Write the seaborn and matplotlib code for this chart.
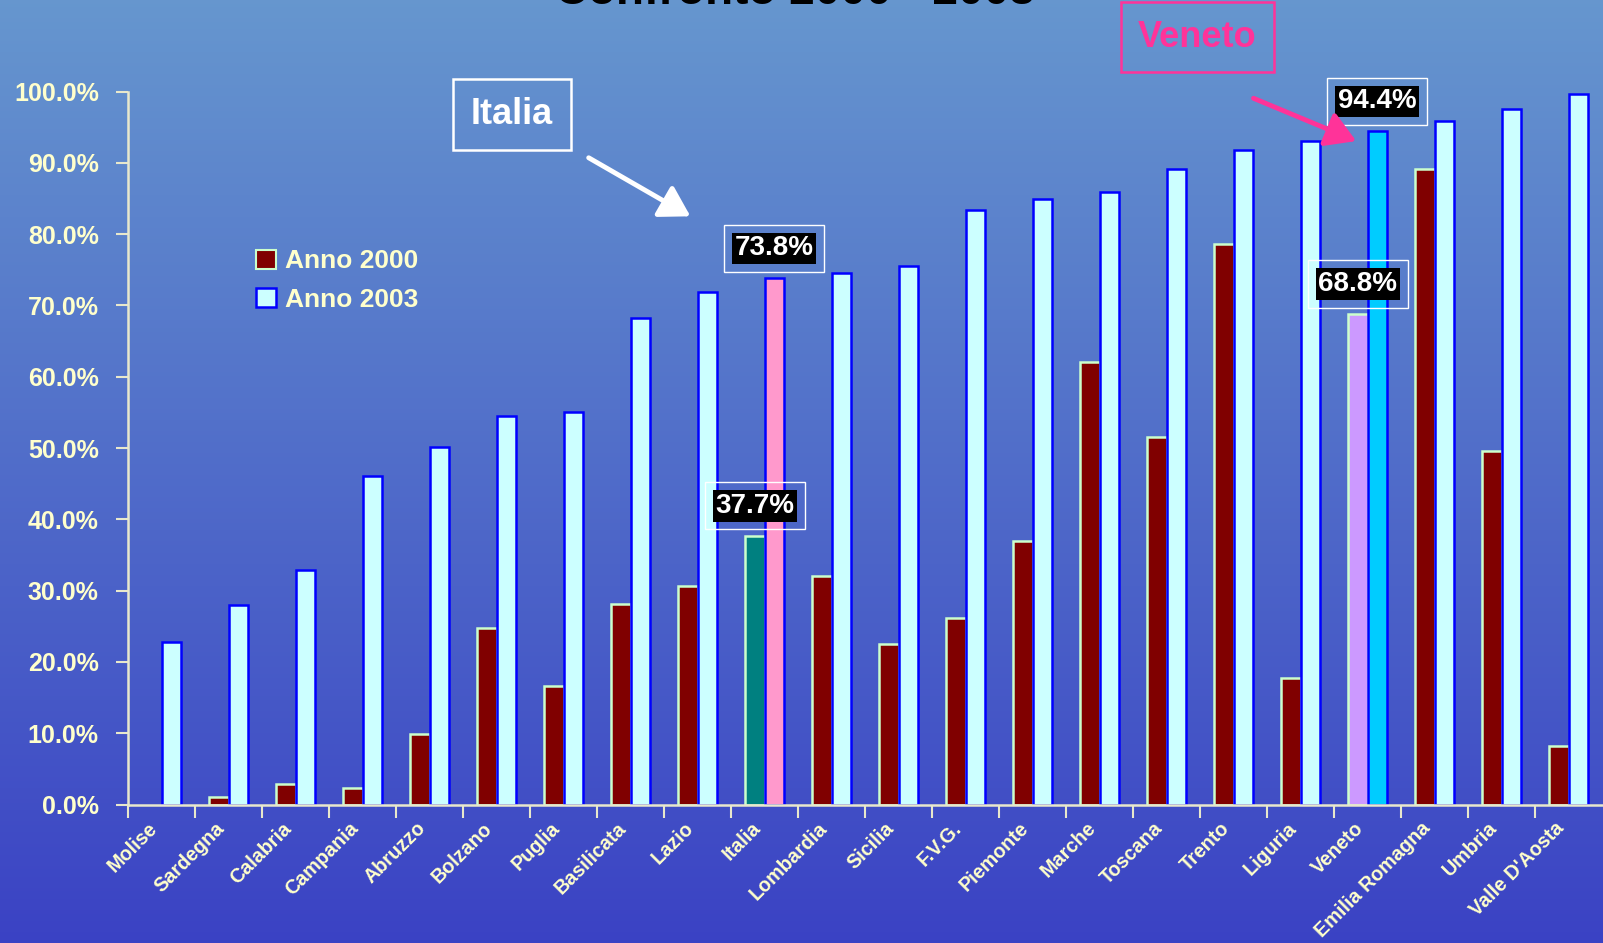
"""
Confronto 2000 - 2003: percentuale per regione, con Italia e Veneto evidenziati.
"""

import numpy as np
import pandas as pd
import matplotlib
matplotlib.use("Agg")
import matplotlib.pyplot as plt
from matplotlib.patches import Patch
from matplotlib.ticker import FixedLocator, PercentFormatter
from matplotlib.transforms import ScaledTranslation
import seaborn as sns


# ---------------------------------------------------------------------------
# Data
# ---------------------------------------------------------------------------

regioni = [
    "Molise", "Sardegna", "Calabria", "Campania", "Abruzzo", "Bolzano",
    "Puglia", "Basilicata", "Lazio", "Italia", "Lombardia", "Sicilia",
    "F.V.G.", "Piemonte", "Marche", "Toscana", "Trento", "Liguria",
    "Veneto", "Emilia Romagna", "Umbria", "Valle D'Aosta",
]

anno_2000 = [
    0.0, 1.1, 2.9, 2.3, 9.9, 24.8, 16.6, 28.1, 30.6, 37.7, 32.1,
    22.5, 26.1, 37.0, 62.0, 51.6, 78.6, 17.8, 68.8, 89.2, 49.6, 8.2,
]

anno_2003 = [
    22.8, 28.0, 32.9, 46.1, 50.1, 54.5, 55.1, 68.3, 71.9, 73.8, 74.5,
    75.5, 83.4, 84.9, 85.9, 89.2, 91.8, 93.0, 94.4, 95.8, 97.6, 99.6,
]

serie = ["Anno 2000", "Anno 2003"]
evidenziate = ["Italia", "Veneto"]

# colours
TXT = "#ffffcc"
COL_2000, EDGE_2000 = "#800000", "#ccffcc"
COL_2003, EDGE_2003 = "#ccffff", "#0000ff"
SPECIAL = {
    "Italia": ("#008080", "#ff99cc"),
    "Veneto": ("#cc99ff", "#00ccff"),
}

sns.set_style("white")
plt.rcParams["font.family"] = ["Liberation Sans", "DejaVu Sans"]

df = pd.DataFrame({
    "Regione": regioni * 2,
    "Anno": [serie[0]] * len(regioni) + [serie[1]] * len(regioni),
    "Valore": [v / 100 for v in anno_2000 + anno_2003],
})

# ---------------------------------------------------------------------------
# Figure + gradient background
# ---------------------------------------------------------------------------

W, H = 1603, 943
fig = plt.figure(figsize=(W / 100, H / 100), dpi=100)

bg = fig.add_axes([0, 0, 1, 1], zorder=-10)
top = np.array([0.40, 0.59, 0.81])
bot = np.array([0.23, 0.26, 0.77])
t = np.linspace(0, 1, 256)[:, None]
grad = top[None, :] * (1 - t) + bot[None, :] * t
bg.imshow(grad[:, None, :], aspect="auto", extent=[0, 1, 0, 1])
bg.axis("off")

ax = fig.add_axes([128 / W, (H - 804.5) / H, 1474 / W, 713 / H])
ax.patch.set_alpha(0)

sns.barplot(
    data=df, x="Regione", y="Valore", hue="Anno", order=regioni,
    hue_order=serie, palette={serie[0]: COL_2000, serie[1]: COL_2003},
    width=0.57, saturation=1, legend=False, ax=ax,
)

# edges + highlighted bars
for k, cont in enumerate(ax.containers):
    for i, bar in enumerate(cont):
        bar.set_edgecolor(EDGE_2000 if k == 0 else EDGE_2003)
        bar.set_linewidth(1.8)
        reg = regioni[i]
        if reg in SPECIAL:
            bar.set_facecolor(SPECIAL[reg][k])
        if bar.get_height() == 0:
            bar.set_visible(False)

# value boxes on the highlighted bars
for k, cont in enumerate(ax.containers):
    for i, bar in enumerate(cont):
        if regioni[i] not in evidenziate:
            continue
        xc = bar.get_x() + bar.get_width() / 2
        yv = bar.get_height()
        lab = f"{yv:.1%}"
        ax.text(xc, yv + 0.042, lab, ha="center", va="center", fontsize=20,
                weight="bold", color="none", clip_on=False,
                bbox=dict(boxstyle="square,pad=0.38", fc="none", ec="white", lw=1))
        ax.text(xc, yv + 0.042, lab, ha="center", va="center", fontsize=20,
                weight="bold", color="white", clip_on=False,
                bbox=dict(boxstyle="square,pad=0.1", fc="black", ec="none"))

# ---------------------------------------------------------------------------
# Axes styling
# ---------------------------------------------------------------------------

ax.set_xlim(-0.5, len(regioni) - 0.5)
ax.set_ylim(0, 1)
ax.set_xlabel("")
ax.set_ylabel("")

for side in ["top", "right"]:
    ax.spines[side].set_visible(False)
for side in ["left", "bottom"]:
    ax.spines[side].set_color("#e8e8cc")
    ax.spines[side].set_linewidth(1.8)

ax.yaxis.set_major_locator(FixedLocator(np.arange(0, 1.01, 0.1)))
ax.yaxis.set_major_formatter(PercentFormatter(1.0, decimals=1))
ax.tick_params(axis="y", colors="#e8e8cc", labelcolor=TXT, labelsize=18,
               length=9, width=1.5, pad=12, left=True)
for lab in ax.get_yticklabels():
    lab.set_fontweight("bold")

ax.set_xticks(np.arange(len(regioni)) - 0.5, minor=True)
ax.tick_params(axis="x", which="minor", colors="#e8e8cc", length=9, width=1.5,
               bottom=True)
ax.tick_params(axis="x", which="major", length=0, pad=15, labelcolor=TXT)
ax.set_xticks(np.arange(len(regioni)))
ax.set_xticklabels(regioni, rotation=45, ha="right", va="center",
                   rotation_mode="anchor", fontsize=14.2, fontweight="bold")
shift = ScaledTranslation(-5 / 72, 0, fig.dpi_scale_trans)
for lab in ax.get_xticklabels():
    lab.set_transform(lab.get_transform() + shift)

# legend
handles = [
    Patch(facecolor=COL_2000, edgecolor=EDGE_2000, lw=1.5, label=serie[0]),
    Patch(facecolor=COL_2003, edgecolor=EDGE_2003, lw=1.8, label=serie[1]),
]
leg = ax.legend(handles=handles, loc="upper left", bbox_to_anchor=(0.078, 0.797),
                frameon=False, fontsize=19, handlelength=0.75, handleheight=0.75,
                handletextpad=0.35, labelspacing=0.55, borderpad=0)
for txt in leg.get_texts():
    txt.set_color(TXT)
    txt.set_fontweight("bold")

# ---------------------------------------------------------------------------
# Callouts + title
# ---------------------------------------------------------------------------

ax.text(5.23, 0.968, "Italia", ha="center", va="center", fontsize=26,
        weight="bold", color="white", clip_on=False,
        bbox=dict(boxstyle="square,pad=0.5", fc="none", ec="white", lw=1.8))
ax.annotate("", xy=(7.93, 0.823), xytext=(6.34, 0.909),
            arrowprops=dict(arrowstyle="-|>,head_length=0.5,head_width=0.3",
                            color="white", lw=3.5, mutation_scale=36),
            annotation_clip=False)

ax.text(15.46, 1.076, "Veneto", ha="center", va="center", fontsize=26,
        weight="bold", color="#ff3399", clip_on=False,
        bbox=dict(boxstyle="square,pad=0.48", fc="none", ec="#ff3399", lw=1.8))
ax.annotate("", xy=(17.87, 0.929), xytext=(16.26, 0.992),
            arrowprops=dict(arrowstyle="-|>,head_length=0.5,head_width=0.3",
                            color="#ff3399", lw=3.5, mutation_scale=36),
            annotation_clip=False)

fig.text(0.496, 1 - 4 / H, "Confronto 2000 - 2003", ha="center", va="baseline",
         fontsize=33, weight="bold", color="black")

fig.savefig("out.png", dpi=100)
